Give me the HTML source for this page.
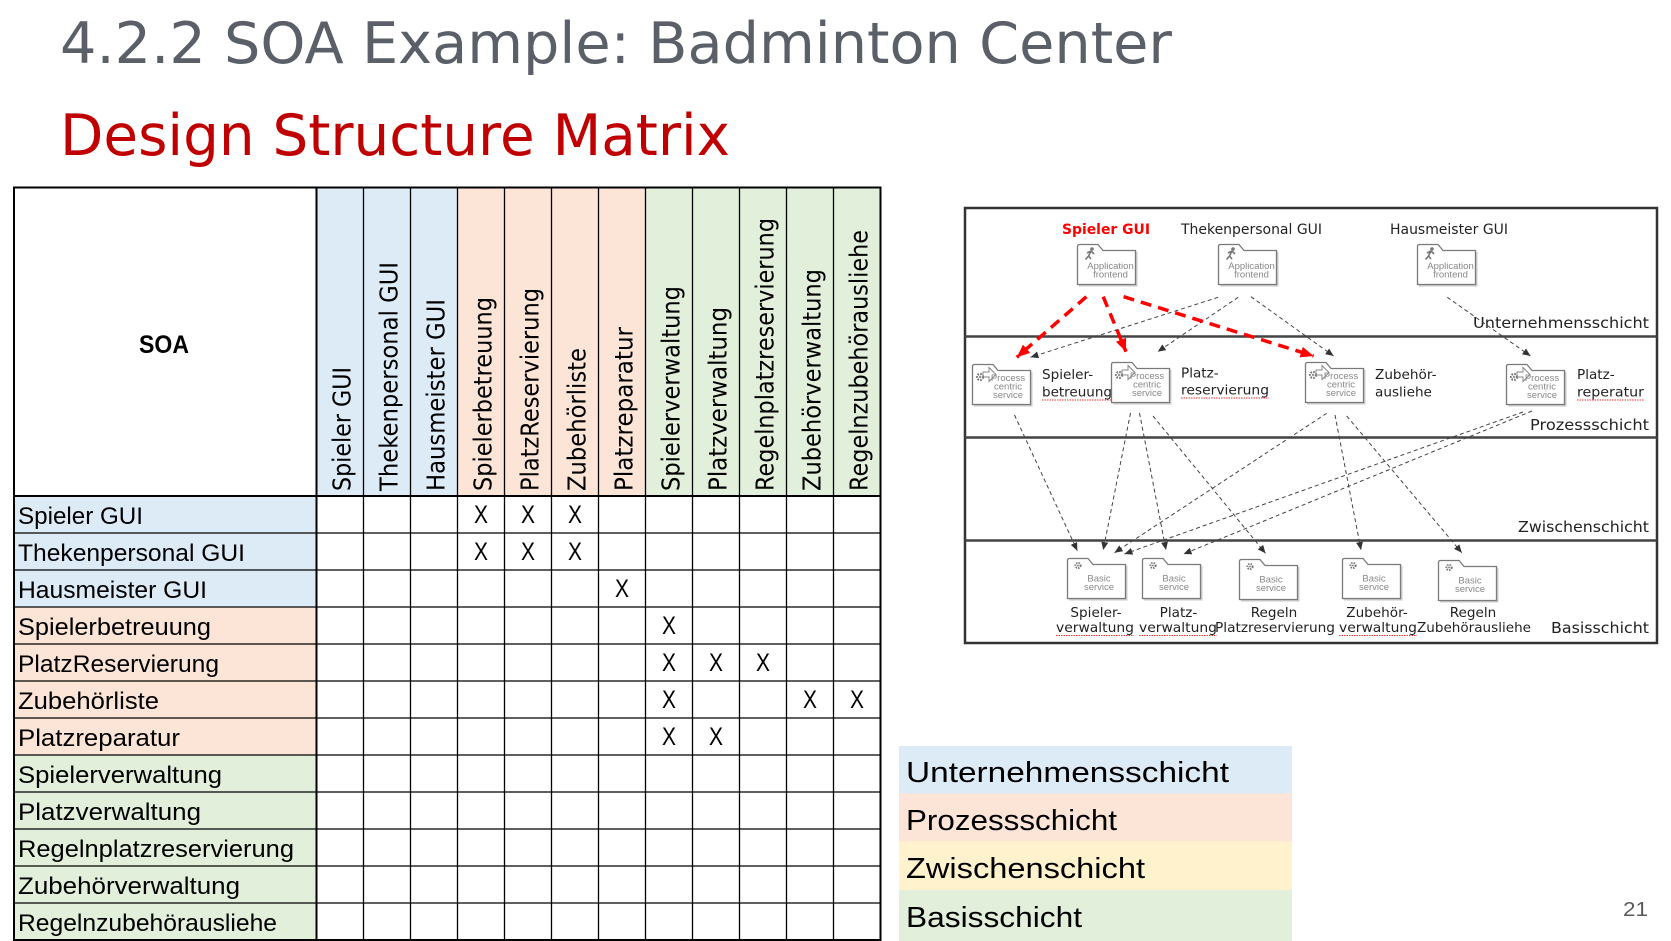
<!DOCTYPE html>
<html><head><meta charset="utf-8"><style>
html,body{margin:0;padding:0;background:#fff;}
svg{display:block;}
.hd{font-family:"DejaVu Sans","Liberation Sans",sans-serif;font-size:25px;fill:#000;}
.rl{font-family:"Liberation Sans",sans-serif;font-size:24px;fill:#000;}
.xm{font-family:"Liberation Sans",sans-serif;font-size:25px;fill:#000;text-anchor:middle;}
.dg{font-family:"DejaVu Sans","Liberation Sans",sans-serif;fill:#222;}
.ic{font-family:"Liberation Sans",sans-serif;font-size:9.5px;fill:#888;text-anchor:middle;}
.lg{font-family:"Liberation Sans",sans-serif;font-size:29px;fill:#000;}
</style></head><body>
<svg width="1671" height="941" viewBox="0 0 1671 941" xmlns="http://www.w3.org/2000/svg">
<defs>
  <marker id="ag" markerUnits="userSpaceOnUse" markerWidth="9" markerHeight="8" refX="8" refY="3.5" orient="auto"><path d="M0,0 L8,3.5 L0,7 z" fill="#333"/></marker>
  <marker id="ar" markerUnits="userSpaceOnUse" markerWidth="14" markerHeight="12" refX="13" refY="5.5" orient="auto"><path d="M0,0 L13,5.5 L0,11 z" fill="#ff0000"/></marker>
  <path id="fp" d="M0.5,40.5 V2.5 Q0.5,0.5 2.5,0.5 H21 L26,6.5 H58.5 V40.5 Z"/>
  <path id="fs" d="M59.8,7.8 V41.8 H1.8"/>
  <g id="app">
    <use href="#fs" fill="none" stroke="#c8c8c8" stroke-width="1.3"/>
    <use href="#fp" fill="#fff" stroke="#7a7a7a" stroke-width="1.3"/>
    <circle cx="15" cy="5" r="1.8" fill="#777"/>
    <path d="M14,7 L11.5,12 M14,7 L17,10 M14,7 L10,9 M11.5,12 L14,15 M11.5,12 L8.5,15.5" stroke="#777" stroke-width="1.6" fill="none"/>
  </g>
  <g id="proc">
    <use href="#fs" fill="none" stroke="#c8c8c8" stroke-width="1.3"/>
    <use href="#fp" fill="#fff" stroke="#7a7a7a" stroke-width="1.3"/>
    <circle cx="8" cy="13" r="3" fill="none" stroke="#777" stroke-width="2.2" stroke-dasharray="1.6 1.2"/>
    <circle cx="8" cy="13" r="1" fill="#777"/>
    <path d="M11,8 H17 V3.5 L24,10.5 L17,17.5 V13 H11 Z" fill="none" stroke="#888" stroke-width="1"/>
  </g>
  <g id="basic">
    <use href="#fs" fill="none" stroke="#c8c8c8" stroke-width="1.3"/>
    <use href="#fp" fill="#fff" stroke="#7a7a7a" stroke-width="1.3"/>
    <circle cx="11" cy="7.5" r="2.6" fill="none" stroke="#777" stroke-width="2" stroke-dasharray="1.4 1.1"/>
    <circle cx="11" cy="7.5" r="0.9" fill="#777"/>
  </g>
</defs>

<rect x="0" y="0" width="1671" height="941" fill="#fff"/>

<!-- Titles -->
<text x="60" y="63" font-family="DejaVu Sans, Liberation Sans, sans-serif" font-size="57" fill="#5b6068" textLength="1112" lengthAdjust="spacingAndGlyphs">4.2.2 SOA Example: Badminton Center</text>
<text x="60" y="155" font-family="DejaVu Sans, Liberation Sans, sans-serif" font-size="57" fill="#c00000" textLength="670" lengthAdjust="spacingAndGlyphs">Design Structure Matrix</text>

<!-- Table fills: header columns -->
<rect x="316.5" y="187.5" width="141" height="308.5" fill="#ddebf7"/>
<rect x="457.5" y="187.5" width="188" height="308.5" fill="#fce4d6"/>
<rect x="645.5" y="187.5" width="235" height="308.5" fill="#e2efda"/>
<!-- row label fills -->
<rect x="14" y="496" width="302.5" height="111" fill="#ddebf7"/>
<rect x="14" y="607" width="302.5" height="148" fill="#fce4d6"/>
<rect x="14" y="755" width="302.5" height="185" fill="#e2efda"/>

<!-- grid lines -->
<g stroke="#000" stroke-width="1.3">
  <line x1="363.5" y1="187.5" x2="363.5" y2="940"/>
  <line x1="410.5" y1="187.5" x2="410.5" y2="940"/>
  <line x1="457.5" y1="187.5" x2="457.5" y2="940"/>
  <line x1="504.5" y1="187.5" x2="504.5" y2="940"/>
  <line x1="551.5" y1="187.5" x2="551.5" y2="940"/>
  <line x1="598.5" y1="187.5" x2="598.5" y2="940"/>
  <line x1="645.5" y1="187.5" x2="645.5" y2="940"/>
  <line x1="692.5" y1="187.5" x2="692.5" y2="940"/>
  <line x1="739.5" y1="187.5" x2="739.5" y2="940"/>
  <line x1="786.5" y1="187.5" x2="786.5" y2="940"/>
  <line x1="833.5" y1="187.5" x2="833.5" y2="940"/>
  <line x1="14" y1="533" x2="880.5" y2="533"/>
  <line x1="14" y1="570" x2="880.5" y2="570"/>
  <line x1="14" y1="607" x2="880.5" y2="607"/>
  <line x1="14" y1="644" x2="880.5" y2="644"/>
  <line x1="14" y1="681" x2="880.5" y2="681"/>
  <line x1="14" y1="718" x2="880.5" y2="718"/>
  <line x1="14" y1="755" x2="880.5" y2="755"/>
  <line x1="14" y1="792" x2="880.5" y2="792"/>
  <line x1="14" y1="829" x2="880.5" y2="829"/>
  <line x1="14" y1="866" x2="880.5" y2="866"/>
  <line x1="14" y1="903" x2="880.5" y2="903"/>
</g>
<g stroke="#000" stroke-width="2" fill="none">
  <line x1="316.5" y1="187.5" x2="316.5" y2="940"/>
  <line x1="14" y1="496" x2="880.5" y2="496"/>
  <rect x="14" y="187.5" width="866.5" height="752.5"/>
</g>

<!-- SOA -->
<text x="164" y="353" text-anchor="middle" font-family="Liberation Sans, sans-serif" font-weight="bold" font-size="25" textLength="50" lengthAdjust="spacingAndGlyphs">SOA</text>

<!-- header rotated labels -->
<text class="hd" transform="translate(350.5,491) rotate(-90)" textLength="124" lengthAdjust="spacingAndGlyphs">Spieler GUI</text>
<text class="hd" transform="translate(397.5,491) rotate(-90)" textLength="229" lengthAdjust="spacingAndGlyphs">Thekenpersonal GUI</text>
<text class="hd" transform="translate(444.5,491) rotate(-90)" textLength="192" lengthAdjust="spacingAndGlyphs">Hausmeister GUI</text>
<text class="hd" transform="translate(491.5,491) rotate(-90)" textLength="194" lengthAdjust="spacingAndGlyphs">Spielerbetreuung</text>
<text class="hd" transform="translate(538.5,491) rotate(-90)" textLength="203" lengthAdjust="spacingAndGlyphs">PlatzReservierung</text>
<text class="hd" transform="translate(585.5,491) rotate(-90)" textLength="143" lengthAdjust="spacingAndGlyphs">Zubehörliste</text>
<text class="hd" transform="translate(632.5,491) rotate(-90)" textLength="164" lengthAdjust="spacingAndGlyphs">Platzreparatur</text>
<text class="hd" transform="translate(679.5,491) rotate(-90)" textLength="205" lengthAdjust="spacingAndGlyphs">Spielerverwaltung</text>
<text class="hd" transform="translate(726.5,491) rotate(-90)" textLength="184" lengthAdjust="spacingAndGlyphs">Platzverwaltung</text>
<text class="hd" transform="translate(773.5,491) rotate(-90)" textLength="273" lengthAdjust="spacingAndGlyphs">Regelnplatzreservierung</text>
<text class="hd" transform="translate(820.5,491) rotate(-90)" textLength="222" lengthAdjust="spacingAndGlyphs">Zubehörverwaltung</text>
<text class="hd" transform="translate(867.5,491) rotate(-90)" textLength="261" lengthAdjust="spacingAndGlyphs">Regelnzubehörausliehe</text>

<!-- row labels -->
<text class="rl" x="18" y="524" textLength="125" lengthAdjust="spacingAndGlyphs">Spieler GUI</text>
<text class="rl" x="18" y="561" textLength="227" lengthAdjust="spacingAndGlyphs">Thekenpersonal GUI</text>
<text class="rl" x="18" y="598" textLength="189" lengthAdjust="spacingAndGlyphs">Hausmeister GUI</text>
<text class="rl" x="18" y="635" textLength="193" lengthAdjust="spacingAndGlyphs">Spielerbetreuung</text>
<text class="rl" x="18" y="672" textLength="201" lengthAdjust="spacingAndGlyphs">PlatzReservierung</text>
<text class="rl" x="18" y="709" textLength="141" lengthAdjust="spacingAndGlyphs">Zubehörliste</text>
<text class="rl" x="18" y="746" textLength="162" lengthAdjust="spacingAndGlyphs">Platzreparatur</text>
<text class="rl" x="18" y="783" textLength="204" lengthAdjust="spacingAndGlyphs">Spielerverwaltung</text>
<text class="rl" x="18" y="820" textLength="183" lengthAdjust="spacingAndGlyphs">Platzverwaltung</text>
<text class="rl" x="18" y="857" textLength="276" lengthAdjust="spacingAndGlyphs">Regelnplatzreservierung</text>
<text class="rl" x="18" y="894" textLength="222" lengthAdjust="spacingAndGlyphs">Zubehörverwaltung</text>
<text class="rl" x="18" y="931" textLength="259" lengthAdjust="spacingAndGlyphs">Regelnzubehörausliehe</text>

<!-- X marks -->
<g>
<text class="xm" x="481" y="523" textLength="14" lengthAdjust="spacingAndGlyphs">X</text>
<text class="xm" x="528" y="523" textLength="14" lengthAdjust="spacingAndGlyphs">X</text>
<text class="xm" x="575" y="523" textLength="14" lengthAdjust="spacingAndGlyphs">X</text>
<text class="xm" x="481" y="560" textLength="14" lengthAdjust="spacingAndGlyphs">X</text>
<text class="xm" x="528" y="560" textLength="14" lengthAdjust="spacingAndGlyphs">X</text>
<text class="xm" x="575" y="560" textLength="14" lengthAdjust="spacingAndGlyphs">X</text>
<text class="xm" x="622" y="597" textLength="14" lengthAdjust="spacingAndGlyphs">X</text>
<text class="xm" x="669" y="634" textLength="14" lengthAdjust="spacingAndGlyphs">X</text>
<text class="xm" x="669" y="671" textLength="14" lengthAdjust="spacingAndGlyphs">X</text>
<text class="xm" x="716" y="671" textLength="14" lengthAdjust="spacingAndGlyphs">X</text>
<text class="xm" x="763" y="671" textLength="14" lengthAdjust="spacingAndGlyphs">X</text>
<text class="xm" x="669" y="708" textLength="14" lengthAdjust="spacingAndGlyphs">X</text>
<text class="xm" x="810" y="708" textLength="14" lengthAdjust="spacingAndGlyphs">X</text>
<text class="xm" x="857" y="708" textLength="14" lengthAdjust="spacingAndGlyphs">X</text>
<text class="xm" x="669" y="745" textLength="14" lengthAdjust="spacingAndGlyphs">X</text>
<text class="xm" x="716" y="745" textLength="14" lengthAdjust="spacingAndGlyphs">X</text>
</g>

<!-- ===== Diagram ===== -->
<rect x="965" y="208" width="692" height="435" fill="#fff" stroke="#333" stroke-width="2.5"/>
<g stroke="#444" stroke-width="2.5">
  <line x1="965" y1="336.5" x2="1657" y2="336.5"/>
  <line x1="965" y1="437.5" x2="1657" y2="437.5"/>
  <line x1="965" y1="540.5" x2="1657" y2="540.5"/>
</g>
<g class="dg" font-size="15.5" text-anchor="end">
  <text x="1649" y="328" textLength="176" lengthAdjust="spacingAndGlyphs">Unternehmensschicht</text>
  <text x="1649" y="430" textLength="119" lengthAdjust="spacingAndGlyphs">Prozessschicht</text>
  <text x="1649" y="532" textLength="131" lengthAdjust="spacingAndGlyphs">Zwischenschicht</text>
  <text x="1649" y="633" textLength="98" lengthAdjust="spacingAndGlyphs">Basisschicht</text>
</g>

<!-- top labels -->
<text x="1062" y="234" font-family="DejaVu Sans, Liberation Sans, sans-serif" font-weight="bold" font-size="14" fill="#ff0000" textLength="88" lengthAdjust="spacingAndGlyphs">Spieler GUI</text>
<text class="dg" x="1181" y="234" font-size="14" textLength="141" lengthAdjust="spacingAndGlyphs">Thekenpersonal GUI</text>
<text class="dg" x="1390" y="234" font-size="14" textLength="118" lengthAdjust="spacingAndGlyphs">Hausmeister GUI</text>

<!-- app frontends -->
<use href="#app" x="1077" y="244"/>
<text class="ic" x="1110.5" y="269">Application</text><text class="ic" x="1110.5" y="277.7">frontend</text>
<use href="#app" x="1218" y="244"/>
<text class="ic" x="1251.5" y="269">Application</text><text class="ic" x="1251.5" y="277.7">frontend</text>
<use href="#app" x="1417" y="244"/>
<text class="ic" x="1450.5" y="269">Application</text><text class="ic" x="1450.5" y="277.7">frontend</text>

<!-- process services -->
<use href="#proc" x="972" y="364"/>
<text class="ic" x="1008" y="381">Process</text><text class="ic" x="1008" y="389.5">centric</text><text class="ic" x="1008" y="398">service</text>
<use href="#proc" x="1111" y="362"/>
<text class="ic" x="1147" y="379">Process</text><text class="ic" x="1147" y="387.5">centric</text><text class="ic" x="1147" y="396">service</text>
<use href="#proc" x="1305" y="362"/>
<text class="ic" x="1341" y="379">Process</text><text class="ic" x="1341" y="387.5">centric</text><text class="ic" x="1341" y="396">service</text>
<use href="#proc" x="1506" y="364"/>
<text class="ic" x="1542" y="381">Process</text><text class="ic" x="1542" y="389.5">centric</text><text class="ic" x="1542" y="398">service</text>

<g class="dg" font-size="13.6">
  <text x="1042" y="379">Spieler-</text><text x="1042" y="396.5" textLength="70" lengthAdjust="spacingAndGlyphs">betreuung</text>
  <text x="1181" y="377.5">Platz-</text><text x="1181" y="394.5" textLength="88" lengthAdjust="spacingAndGlyphs">reservierung</text>
  <text x="1375" y="379">Zubehör-</text><text x="1375" y="396.5">ausliehe</text>
  <text x="1577" y="379">Platz-</text><text x="1577" y="396.5" textLength="67" lengthAdjust="spacingAndGlyphs">reperatur</text>
</g>

<!-- basic services -->
<use href="#basic" x="1067" y="558"/>
<text class="ic" x="1099" y="581.5">Basic</text><text class="ic" x="1099" y="590">service</text>
<use href="#basic" x="1142" y="558"/>
<text class="ic" x="1174" y="581.5">Basic</text><text class="ic" x="1174" y="590">service</text>
<use href="#basic" x="1239" y="559"/>
<text class="ic" x="1271" y="582.5">Basic</text><text class="ic" x="1271" y="591">service</text>
<use href="#basic" x="1342" y="558"/>
<text class="ic" x="1374" y="581.5">Basic</text><text class="ic" x="1374" y="590">service</text>
<use href="#basic" x="1438" y="560"/>
<text class="ic" x="1470" y="583.5">Basic</text><text class="ic" x="1470" y="592">service</text>

<g class="dg" font-size="13.6" text-anchor="middle">
  <text x="1096" y="617">Spieler-</text><text x="1095" y="632" textLength="78" lengthAdjust="spacingAndGlyphs">verwaltung</text>
  <text x="1178.5" y="617">Platz-</text><text x="1178" y="632" textLength="78" lengthAdjust="spacingAndGlyphs">verwaltung</text>
  <text x="1274" y="617">Regeln</text><text x="1275" y="632" textLength="120" lengthAdjust="spacingAndGlyphs">Platzreservierung</text>
  <text x="1377" y="617">Zubehör-</text><text x="1378" y="632" textLength="78" lengthAdjust="spacingAndGlyphs">verwaltung</text>
  <text x="1473" y="617">Regeln</text><text x="1474" y="632" textLength="114" lengthAdjust="spacingAndGlyphs">Zubehörausliehe</text>
</g>

<!-- spellcheck squiggles -->
<g stroke="#e83030" stroke-width="1" stroke-dasharray="1.5 1" fill="none">
  <line x1="1042" y1="400" x2="1112" y2="400"/>
  <line x1="1181" y1="398" x2="1269" y2="398"/>
  <line x1="1577" y1="400" x2="1644" y2="400"/>
  <line x1="1056" y1="635.5" x2="1134" y2="635.5"/>
  <line x1="1139" y1="635.5" x2="1217" y2="635.5"/>
  <line x1="1339" y1="635.5" x2="1417" y2="635.5"/>
</g>

<!-- grey dashed arrows -->
<g stroke="#444" stroke-width="1" stroke-dasharray="4 3" fill="none" marker-end="url(#ag)">
  <line x1="1218.2" y1="297.3" x2="1030.5" y2="357.3"/>
  <line x1="1238.2" y1="297.3" x2="1157.7" y2="351.7"/>
  <line x1="1251" y1="296.7" x2="1333.6" y2="356"/>
  <line x1="1447.3" y1="297.3" x2="1530.5" y2="356"/>
  <line x1="1014.5" y1="415" x2="1077.3" y2="550.7"/>
  <line x1="1130.5" y1="413" x2="1103.2" y2="550"/>
  <line x1="1139.5" y1="413" x2="1166" y2="550"/>
  <line x1="1153" y1="416" x2="1265.5" y2="553.3"/>
  <line x1="1326.7" y1="413.3" x2="1114.5" y2="552.7"/>
  <line x1="1335" y1="415" x2="1361" y2="550"/>
  <line x1="1346.7" y1="416" x2="1461.8" y2="552.7"/>
  <line x1="1523" y1="412" x2="1124.5" y2="554"/>
  <line x1="1532" y1="411" x2="1183.6" y2="554"/>
</g>

<!-- red dashed arrows -->
<g stroke="#ff0000" stroke-width="3.5" stroke-dasharray="11 7" fill="none" marker-end="url(#ar)">
  <line x1="1086.4" y1="296.7" x2="1016.8" y2="357.3"/>
  <line x1="1103.2" y1="296.7" x2="1126" y2="351.7"/>
  <line x1="1123.6" y1="296.7" x2="1313.6" y2="356"/>
</g>

<!-- Legend -->
<rect x="899" y="746" width="393" height="47.5" fill="#ddebf7"/>
<rect x="899" y="793.5" width="393" height="48" fill="#fce4d6"/>
<rect x="899" y="841.5" width="393" height="48.5" fill="#fff2cc"/>
<rect x="899" y="890" width="393" height="51" fill="#e2efda"/>
<text class="lg" x="906" y="782" textLength="323" lengthAdjust="spacingAndGlyphs">Unternehmensschicht</text>
<text class="lg" x="906" y="830" textLength="211" lengthAdjust="spacingAndGlyphs">Prozessschicht</text>
<text class="lg" x="906" y="878" textLength="239" lengthAdjust="spacingAndGlyphs">Zwischenschicht</text>
<text class="lg" x="906" y="927" textLength="176" lengthAdjust="spacingAndGlyphs">Basisschicht</text>

<!-- page number -->
<text x="1623" y="916" font-family="Liberation Sans, sans-serif" font-size="20" fill="#595959" textLength="25" lengthAdjust="spacingAndGlyphs">21</text>
</svg>
</body></html>
